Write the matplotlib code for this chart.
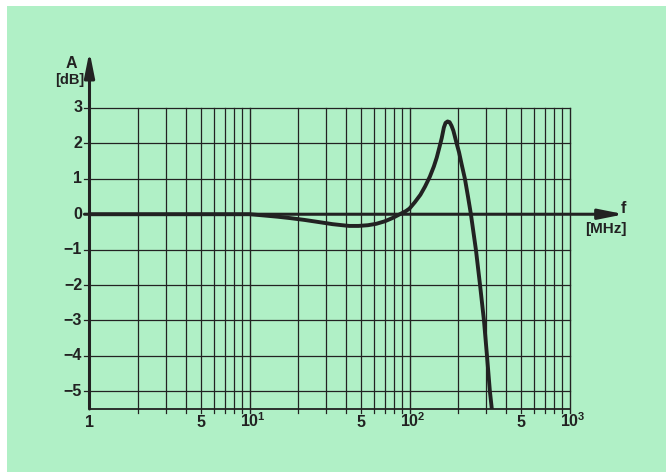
import numpy as np
import matplotlib.pyplot as plt
from matplotlib.patches import Rectangle

# Amplitudengang, Werte
f_mhz = [1, 5, 10, 12, 15, 18, 22, 27, 33, 38, 42, 48, 55, 62, 70, 78, 87,
         95, 100, 108, 117, 125, 134, 142, 148, 154, 159, 164, 168, 173,
         178, 183, 188, 192, 197, 204, 212, 222, 232, 242, 260, 276, 292, 305,
         318, 327]
a_db = [0.0, 0.0, 0.0, -0.03, -0.07, -0.11, -0.16, -0.22, -0.28, -0.31,
        -0.33, -0.33, -0.31, -0.27, -0.2, -0.11, 0.0,
        0.09, 0.16, 0.34, 0.55, 0.78, 1.06, 1.35, 1.6, 1.9, 2.15, 2.45, 2.58,
        2.62, 2.6, 2.5, 2.36, 2.2, 2.0, 1.75, 1.4, 1.0, 0.5, 0.0, -1.0, -2.0,
        -3.0, -4.0, -5.0, -5.5]

y_ticks = [3, 2, 1, 0, -1, -2, -3, -4, -5]
y_labels = ['3', '2', '1', '0', '\u22121', '\u22122', '\u22123', '\u22124', '\u22125']
x_ticks = [1, 5, 10, 50, 100, 500, 1000]
x_labels = ['1', '5', r'$\mathbf{10}^{\mathbf{1}}$', '5', r'$\mathbf{10}^{\mathbf{2}}$',
            '5', r'$\mathbf{10}^{\mathbf{3}}$']

green = '#b0f0c6'
ink = '#222222'
W, H = 666, 472

plt.rcParams['font.family'] = ['Liberation Sans', 'DejaVu Sans']
plt.rcParams['mathtext.fontset'] = 'custom'
plt.rcParams['mathtext.rm'] = 'Liberation Sans'
plt.rcParams['mathtext.bf'] = 'Liberation Sans:bold'
fig = plt.figure(figsize=(W / 100, H / 100), dpi=100, facecolor='white')
fig.patches.append(Rectangle((7 / W, 0), 1, (H - 6) / H, transform=fig.transFigure,
                             facecolor=green, edgecolor='none', zorder=-10))

# Achsenbereich: 1..1000 MHz, -5.5..3 dB
x0, x1 = 89.5, 569.5
yt, yb = 108, 409
ax = fig.add_axes([x0 / W, (H - yb) / H, (x1 - x0) / W, (yb - yt) / H])
ax.set_xscale('log')
ax.set_xlim(1, 1000)
ax.set_ylim(-5.5, 3)
ax.patch.set_alpha(0)
for s in ax.spines.values():
    s.set_visible(False)
ax.set_xticks([])
ax.set_yticks([])
ax.minorticks_off()

# Gitter
for d in [1, 10, 100]:
    for m in range(2, 10):
        ax.plot([d * m, d * m], [-5.62, 3], color=ink, lw=0.9, clip_on=False)
for v in [10, 100, 1000]:
    ax.plot([v, v], [-5.62, 3], color=ink, lw=1.0, clip_on=False)
for y in y_ticks:
    if y != 0:
        ax.plot([0.93, 1000], [y, y], color=ink, lw=0.9, clip_on=False)
ax.plot([1, 1000], [-5.5, -5.5], color=ink, lw=1.3, clip_on=False)

# Achsen mit Pfeilen
ax.annotate('', xy=(1, 4.6), xytext=(1, -5.5), annotation_clip=False,
            arrowprops=dict(arrowstyle='-|>,head_length=1.5,head_width=0.3',
                            color=ink, lw=2.2, shrinkA=0, shrinkB=0))
ax.annotate('', xy=(2200, 0), xytext=(0.93, 0), annotation_clip=False,
            arrowprops=dict(arrowstyle='-|>,head_length=1.5,head_width=0.3',
                            color=ink, lw=2.2, shrinkA=0, shrinkB=0))

# Kurve
ax.plot(f_mhz, a_db, color=ink, lw=2.8, solid_joinstyle='round', zorder=5)

# Beschriftung
for y, lab in zip(y_ticks, y_labels):
    ax.text(0.90, y, lab, ha='right', va='center', fontsize=11.5,
            fontweight='bold', color=ink)
for x, lab in zip(x_ticks, x_labels):
    ax.text(x * (1.05 if '10' in lab else 1), -6.0, lab, ha='center', va='baseline',
            fontsize=11.5, fontweight='bold', color=ink)

ax.text(0.77, 4.27, 'A', ha='center', va='center', fontsize=11.5,
        fontweight='bold', color=ink)
ax.text(0.93, 3.79, '[dB]', ha='right', va='center', fontsize=10.5,
        fontweight='bold', color=ink)
ax.text(2080, 0.15, 'f', ha='left', va='center', fontsize=11.5,
        fontweight='bold', color=ink)
ax.text(1700, -0.42, '[MHz]', ha='center', va='center', fontsize=11,
        fontweight='bold', color=ink)

plt.savefig('out.png', dpi=100, facecolor=fig.get_facecolor())
